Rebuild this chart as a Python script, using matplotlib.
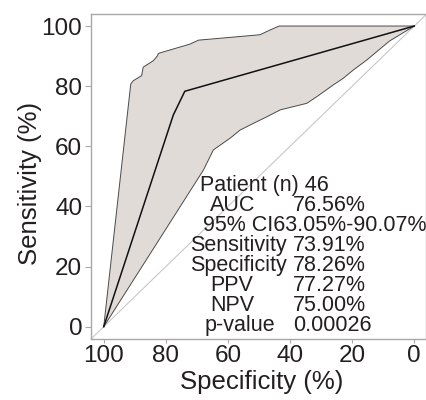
import matplotlib
matplotlib.use("Agg")
import matplotlib.pyplot as plt

plt.rcParams['font.family'] = ['Liberation Sans', 'DejaVu Sans']

# ROC curve (specificity %, sensitivity %)
roc_spec = [100, 77.6, 73.9, 0]
roc_sens = [0, 70.4, 78.3, 100]

# upper confidence bound
upper_spec = [100, 91.3, 90.5, 87.8, 87.3, 84.0, 82.7, 82.4, 72.2, 69.5, 49.7, 46.4, 43.5, 0]
upper_sens = [0, 80.7, 81.8, 83.5, 86.3, 88.5, 90.1, 90.9, 94.0, 95.3, 97.1, 98.7, 100, 100]

# lower confidence bound
lower_spec = [100, 67.9, 64.7, 59.3, 56.1, 50.7, 47.5, 43.2, 34.6, 31.4, 26.1, 22.9, 19.6, 15.3, 8.0, 0]
lower_sens = [0, 52.1, 58.8, 62.7, 65.4, 68.2, 69.8, 72.1, 74.3, 76.5, 80.4, 82.6, 85.4, 88.7, 95.0, 100]

ticks = [100, 80, 60, 40, 20, 0]

header = "Patient (n) 46"
ci_line = "95% CI63.05%-90.07%"
stat_names = ["AUC", "Sensitivity", "Specificity", "PPV", "NPV", "p-value"]
stat_values = ["76.56%", "73.91%", "78.26%", "77.27%", "75.00%", "0.00026"]

W, H = 427, 400
fig = plt.figure(figsize=(W / 100, H / 100), dpi=100)
ax = fig.add_axes([91 / W, 1 - 339 / H, 335 / W, 325 / H])

band_x = upper_spec + lower_spec[::-1]
band_y = upper_sens + lower_sens[::-1]
ax.fill(band_x, band_y, facecolor='#e1dbd8', edgecolor='none', zorder=1)
ax.plot(upper_spec, upper_sens, color='#4a4a4a', lw=0.7, zorder=2)
ax.plot(lower_spec, lower_sens, color='#4a4a4a', lw=0.7, zorder=2)
ax.axline((100, 0), (0, 100), color='#c8c8c8', lw=0.8, zorder=1.5)
ax.plot(roc_spec, roc_sens, color='#111111', lw=1.1, zorder=3)

ax.set_xlim(104.1, -3.77)
ax.set_ylim(-4.09, 104.0)
ax.set_xticks(ticks)
ax.set_yticks(ticks)
ax.set_xticklabels([str(t) for t in ticks])
ax.set_yticklabels([str(t) for t in ticks])

for s in ax.spines.values():
    s.set_color('#a8a8a8')
    s.set_linewidth(1.0)
ax.tick_params(axis='y', length=4.3, width=0.8, color='#a8a8a8', pad=2,
               labelsize=17.5, labelcolor='#231f20')
ax.tick_params(axis='x', length=3, width=0.8, color='#a8a8a8', pad=1,
               labelsize=17.5, labelcolor='#231f20')

ax.set_xlabel("Specificity (%)", fontsize=18.5, color='#231f20')
ax.set_ylabel("Sensitivity (%)", fontsize=18.5, color='#231f20')
ax.xaxis.set_label_coords(0.51, -0.094)
ax.yaxis.set_label_coords(-0.145, 0.48)

# statistics block, positions in figure pixels
def put(px, py, s):
    fig.text(px / W, 1 - py / H, s, fontsize=15.5, color='#231f20',
             ha='left', va='baseline')

put(200, 190.7, header)
put(203, 230.7, ci_line)
name_x = [210, 190, 190, 210, 210, 205]
base_y = [210.7, 250.7, 270.7, 290.7, 310.7, 330.7]
for nx, by, n, v in zip(name_x, base_y, stat_names, stat_values):
    put(nx, by, n)
    put(293, by, v)

fig.savefig("out.png", dpi=100)
